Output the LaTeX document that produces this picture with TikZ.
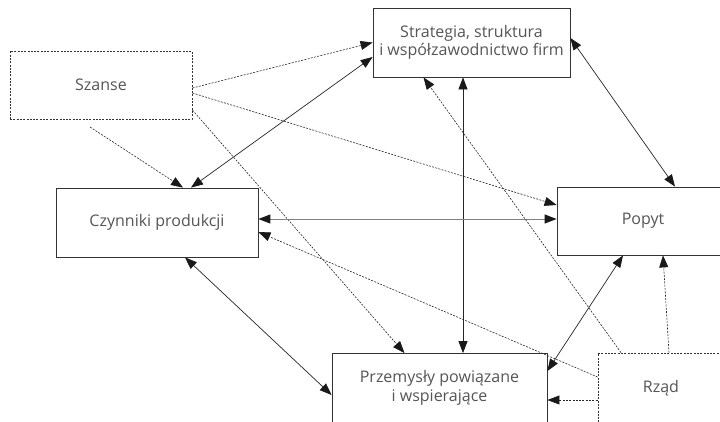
\documentclass[tikz,border=0pt]{standalone}
\usepackage{fontspec}
\setmainfont{Open Sans}
\usetikzlibrary{arrows.meta}
\definecolor{boxline}{HTML}{333333}
\definecolor{boxtext}{HTML}{555555}
\definecolor{linkgray}{HTML}{808080}
\def\dlink{\draw[link]}
\def\dhint{\draw[hint]}

\begin{document}
\begin{tikzpicture}[x=1pt,y=-1pt,
    >={Triangle[length=12pt,width=9pt,color=black!90]},
    box/.style={draw=boxline,line width=0.8pt,minimum height=69pt,inner sep=0pt,
        align=center,text=boxtext,font=\fontsize{16}{18.5}\selectfont},
    dbox/.style={box,dash pattern=on 2pt off 1.3pt},
    link/.style={<->,draw=black!85,line width=0.7pt},
    hint/.style={->,draw=black!85,line width=0.6pt,dash pattern=on 2pt off 1.3pt}]
                \useasboundingbox (0,0) rectangle (720,421);
                \clip (0,0) rectangle (720,421);
                \node[dbox,minimum width=182pt,minimum height=68pt] (szanse) at (101,85) {Szanse};
                \node[box,minimum width=197pt] (strategia) at (471.5,42.5) {Strategia, struktura\\i współzawodnictwo firm};
                \node[box,minimum width=202pt] (czynniki) at (157,222.5) {Czynniki produkcji};
                \node[box,minimum width=172pt,minimum height=68pt] (popyt) at (643,221) {Popyt};
                \node[box,minimum width=215pt] (przemysly) at (439.5,388) {Przemysły powiązane\\i wspierające};
                \node[dbox,minimum width=126pt,minimum height=70pt] (rzad) at (661,388) {Rząd};
                \coordinate (szanseLow) at (90,127);
                \dhint ([yshift=-3pt]szanse.east) -- (strategia.west);
                \dhint ([yshift=-8pt]szanse.east) -- ([yshift=16pt]popyt.west);
                \dhint ([yshift=-25pt]szanse.east) -- ([xshift=-35pt]przemysly.north);
                \dhint (szanseLow) -- ([xshift=26pt]czynniki.north);
                \dlink ([yshift=-14.5pt]strategia.west) -- ([xshift=34pt]czynniki.north);
                \dlink ([xshift=-8.5pt]strategia.south) -- ([xshift=23.5pt]przemysly.north);
                \dlink ([yshift=4.5pt]strategia.east) -- ([xshift=32pt]popyt.north);
                \dlink[draw=linkgray,line width=1pt] ([yshift=3.5pt]czynniki.east) -- ([yshift=2pt]popyt.west);
                \dlink ([xshift=28pt]czynniki.south) -- ([yshift=-7pt]przemysly.west);
                \dlink ([yshift=17pt]przemysly.east) -- ([xshift=-20pt]popyt.south);
                \dhint ([xshift=-40pt]rzad.north) -- ([xshift=-48pt]strategia.south);
                \dhint ([yshift=11pt]rzad.west) -- ([yshift=-9.5pt]czynniki.east);
                \dhint ([yshift=-12pt]rzad.west) -- ([yshift=-12pt]przemysly.east);
                \dhint ([xshift=8pt]rzad.north) -- ([xshift=20pt]popyt.south);
            \end{tikzpicture}
\end{document}
